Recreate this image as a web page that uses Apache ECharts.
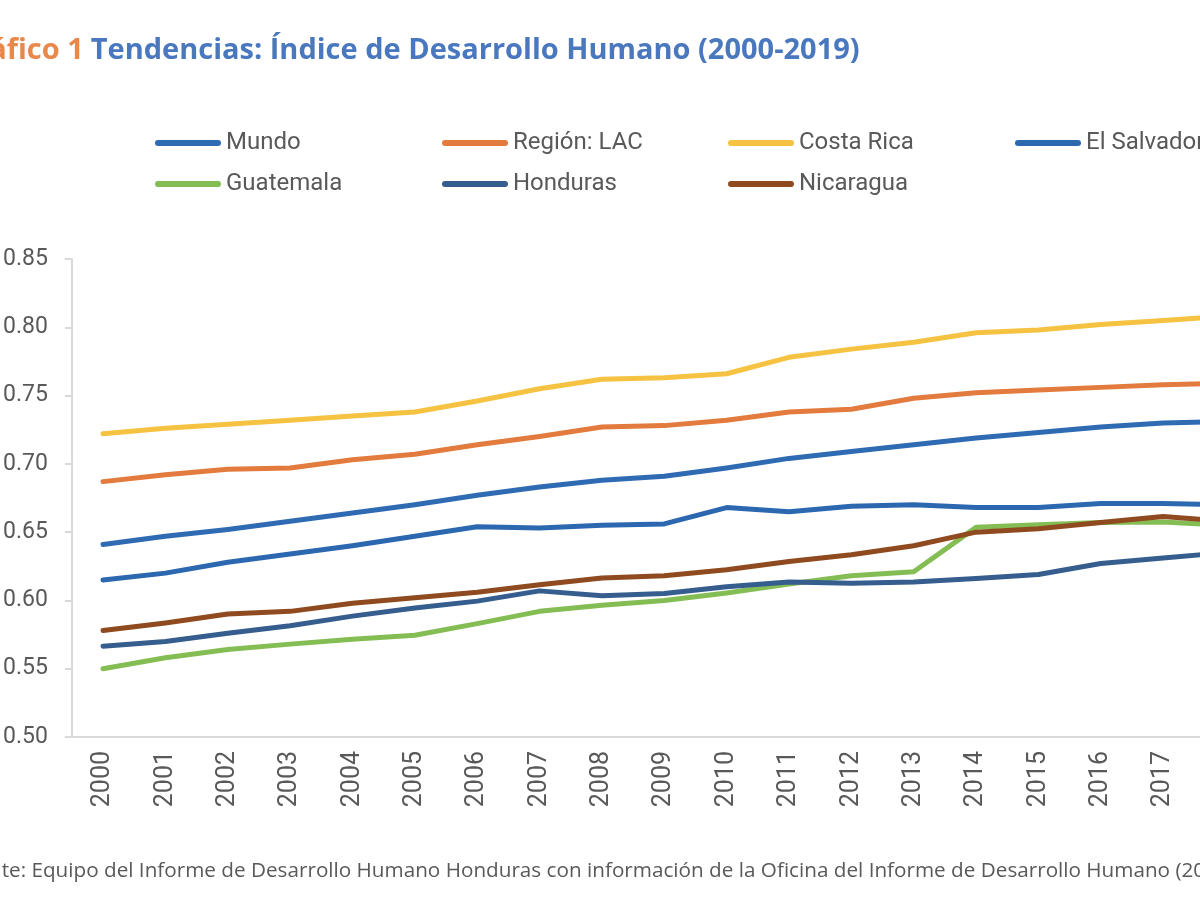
<!DOCTYPE html>
<html>
<head>
<meta charset="utf-8">
<script src="https://cdn.jsdelivr.net/npm/echarts@6/dist/echarts.min.js"></script>
<style>
  html, body { margin: 0; padding: 0; background: #fff; overflow: hidden; width: 1200px; height: 900px; }
  /* el gráfico original está recortado a la derecha: se dibuja más ancho */
  #chart { width: 1400px; height: 900px; }
</style>
</head>
<body>
<div id="chart"></div>
<script>
// años del eje x
const years = ['2000', '2001', '2002', '2003', '2004', '2005', '2006', '2007', '2008', '2009',
  '2010', '2011', '2012', '2013', '2014', '2015', '2016', '2017', '2018', '2019'];

// IDH por país / región
const mundo = [0.641, 0.647, 0.652, 0.658, 0.664, 0.670, 0.677, 0.683, 0.688, 0.691,
  0.697, 0.704, 0.709, 0.714, 0.719, 0.723, 0.727, 0.730, 0.731, 0.737];
const regionLac = [0.687, 0.692, 0.696, 0.697, 0.703, 0.707, 0.714, 0.720, 0.727, 0.728,
  0.732, 0.738, 0.740, 0.748, 0.752, 0.754, 0.756, 0.758, 0.759, 0.766];
const costaRica = [0.722, 0.726, 0.729, 0.732, 0.735, 0.738, 0.746, 0.755, 0.762, 0.763,
  0.766, 0.778, 0.784, 0.789, 0.796, 0.798, 0.802, 0.805, 0.808, 0.810];
const elSalvador = [0.615, 0.620, 0.628, 0.634, 0.640, 0.647, 0.654, 0.653, 0.655, 0.656,
  0.668, 0.665, 0.669, 0.670, 0.668, 0.668, 0.671, 0.671, 0.670, 0.673];
const guatemala = [0.550, 0.558, 0.564, 0.568, 0.5715, 0.5745, 0.583, 0.592, 0.5965, 0.600,
  0.6055, 0.612, 0.618, 0.621, 0.6535, 0.6555, 0.657, 0.6575, 0.655, 0.663];
const honduras = [0.5665, 0.570, 0.576, 0.5815, 0.5885, 0.5945, 0.5995, 0.607, 0.6035, 0.605,
  0.610, 0.6135, 0.6125, 0.6135, 0.616, 0.619, 0.627, 0.631, 0.635, 0.634];
const nicaragua = [0.578, 0.5835, 0.590, 0.592, 0.598, 0.602, 0.606, 0.6115, 0.6165, 0.618,
  0.6225, 0.6285, 0.6335, 0.640, 0.650, 0.6525, 0.657, 0.6615, 0.658, 0.660];

const yTicks = { min: 0.5, max: 0.85, step: 0.05 };

const GRAY = '#595959';
const AXIS = '#d9d9d9';
const FONT = 'Roboto';
// icono de leyenda: barra con extremos redondos
const pill = 'path://M10,0 L210,0 A10,10 0 0 1 210,20 L10,20 A10,10 0 0 1 10,0 Z';

const seriesDefs = [
  { name: 'Mundo', data: mundo, color: '#2E6BB3' },
  { name: 'Región: LAC', data: regionLac, color: '#E27B3D' },
  { name: 'Costa Rica', data: costaRica, color: '#F5C242' },
  { name: 'El Salvador', data: elSalvador, color: '#2C68B0' },
  { name: 'Guatemala', data: guatemala, color: '#85BD55' },
  { name: 'Honduras', data: honduras, color: '#355D8E' },
  { name: 'Nicaragua', data: nicaragua, color: '#8F4A1F' },
];

// una leyenda por elemento, en columnas fijas
const legendCols = [155, 442, 728, 1015];
const legendRows = [131, 172];
const legends = seriesDefs.map((s, i) => ({
  left: legendCols[i % 4],
  top: legendRows[Math.floor(i / 4)],
  padding: 0,
  data: [s.name],
  icon: pill,
  itemWidth: 66,
  itemHeight: 6,
  textStyle: { fontFamily: FONT, fontSize: 24, color: GRAY },
}));

const chart = echarts.init(document.getElementById('chart'));
chart.setOption({
  backgroundColor: '#fff',
  animation: false,
  title: {
    left: -45,
    top: 36,
    padding: 0,
    text: '{a|Gráfico 1}{b|Tendencias: Índice de Desarrollo Humano (2000-2019)}',
    textStyle: {
      rich: {
        a: { fontFamily: 'Open Sans', fontWeight: 'bold', fontSize: 29, color: '#E8884A' },
        b: { fontFamily: 'Open Sans', fontWeight: 'bold', fontSize: 29, color: '#4A78BF', padding: [0, 0, 0, 7] },
      },
    },
  },
  legend: legends,
  grid: { left: 67, top: 259, width: 1252, height: 478 },
  xAxis: {
    type: 'category',
    data: years,
    boundaryGap: true,
    axisLine: { lineStyle: { color: AXIS, width: 2 } },
    axisTick: { show: false },
    axisLabel: { rotate: 90, interval: 0, margin: 14, fontFamily: FONT, fontSize: 25, color: GRAY },
  },
  yAxis: {
    type: 'value',
    min: yTicks.min,
    max: yTicks.max,
    interval: yTicks.step,
    axisLine: { show: true, lineStyle: { color: AXIS, width: 2 } },
    axisTick: { show: true, length: 7, lineStyle: { color: AXIS, width: 2 } },
    splitLine: { show: false },
    axisLabel: {
      margin: 24,
      fontFamily: FONT,
      fontSize: 23,
      color: GRAY,
      formatter: (v) => v.toFixed(2),
    },
  },
  graphic: [
    {
      type: 'text',
      left: -46,
      top: 861,
      style: {
        text: 'Fuente: Equipo del Informe de Desarrollo Humano Honduras con información de la Oficina del Informe de Desarrollo Humano (2020).',
        fontFamily: 'Open Sans',
        fontSize: 20.7,
        fill: GRAY,
      },
    },
  ],
  series: seriesDefs.map((s) => ({
    name: s.name,
    type: 'line',
    data: s.data,
    showSymbol: false,
    symbol: 'none',
    color: s.color,
    lineStyle: { width: 5, color: s.color, cap: 'round', join: 'round' },
  })),
});
</script>
</body>
</html>
